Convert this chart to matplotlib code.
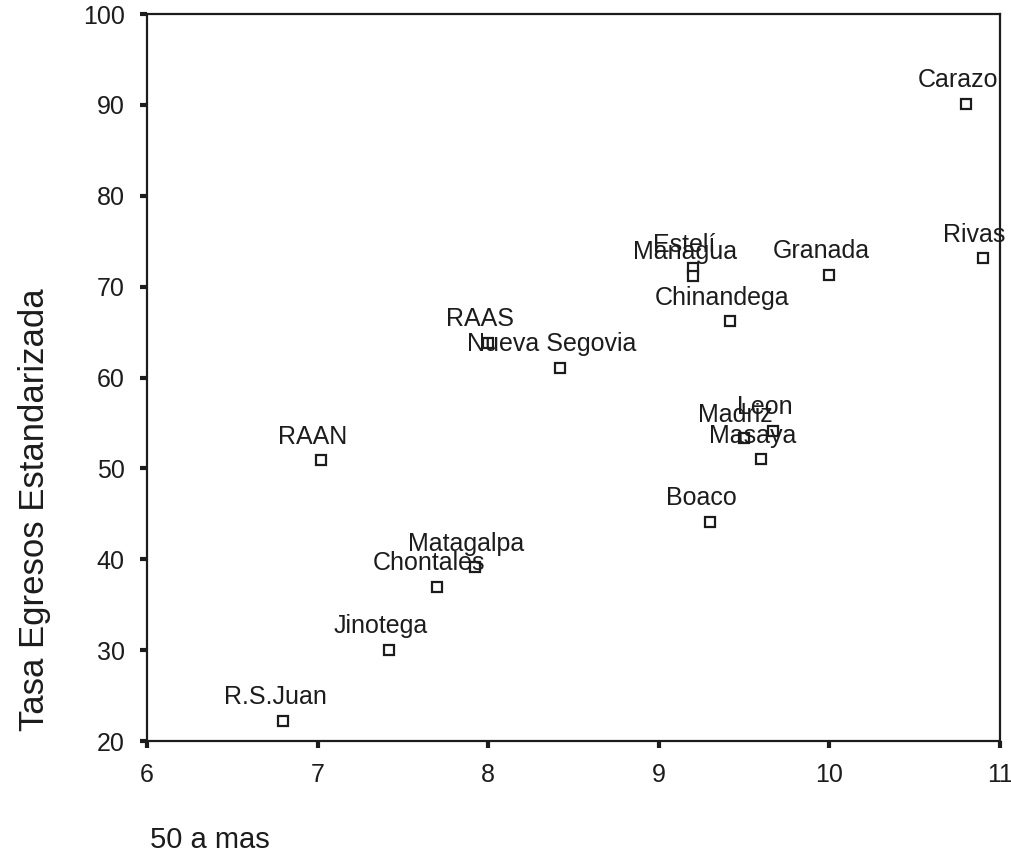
import matplotlib
matplotlib.use("Agg")
import matplotlib.pyplot as plt

plt.rcParams["font.family"] = ["Liberation Sans", "DejaVu Sans"]

# regions: share aged 50+ vs standardised discharge rate
regiones = ["Carazo", "Rivas", "Granada", "Estelí", "Managua", "Chinandega",
            "RAAS", "Nueva Segovia", "RAAN", "Leon", "Madriz", "Masaya",
            "Boaco", "Matagalpa", "Chontales", "Jinotega", "R.S.Juan"]
pct_50_mas = [10.8, 10.9, 10.0, 9.2, 9.2, 9.42,
              8.0, 8.42, 7.02, 9.67, 9.5, 9.6,
              9.3, 7.92, 7.7, 7.42, 6.8]
tasa_egresos = [90.1, 73.1, 71.3, 72.0, 71.2, 66.2,
                63.8, 61.1, 50.9, 54.1, 53.3, 51.0,
                44.1, 39.1, 37.0, 30.0, 22.2]

ink = "#1c1c1c"

fig = plt.figure(figsize=(10.11, 8.66), dpi=100)
ax = fig.add_axes([0.1454, 0.1443, 0.8437, 0.8395])

ax.plot(pct_50_mas, tasa_egresos, linestyle="none", marker="s", markersize=7.5,
        markerfacecolor="white", markeredgecolor=ink, markeredgewidth=1.6)

for nombre, x, y in zip(regiones, pct_50_mas, tasa_egresos):
    ax.annotate(nombre, (x, y), xytext=(-6, 12), textcoords="offset points",
                ha="center", va="baseline", fontsize=18, color=ink)

ax.set_xlim(6, 11)
ax.set_ylim(20, 100)
ax.set_xticks([6, 7, 8, 9, 10, 11])
ax.set_yticks([20, 30, 40, 50, 60, 70, 80, 90, 100])
ax.tick_params(direction="out", length=5, width=3, labelsize=18,
               colors=ink, pad=11)
for s in ax.spines.values():
    s.set_linewidth(1.6)
    s.set_color(ink)

fig.text(0.034, 0.411, "Tasa Egresos Estandarizada", rotation=90,
         ha="center", va="center", fontsize=25, color=ink)
fig.text(0.148, 0.03, "50 a mas", ha="left", va="center",
         fontsize=21, color=ink)

fig.savefig("out.png", dpi=100)
